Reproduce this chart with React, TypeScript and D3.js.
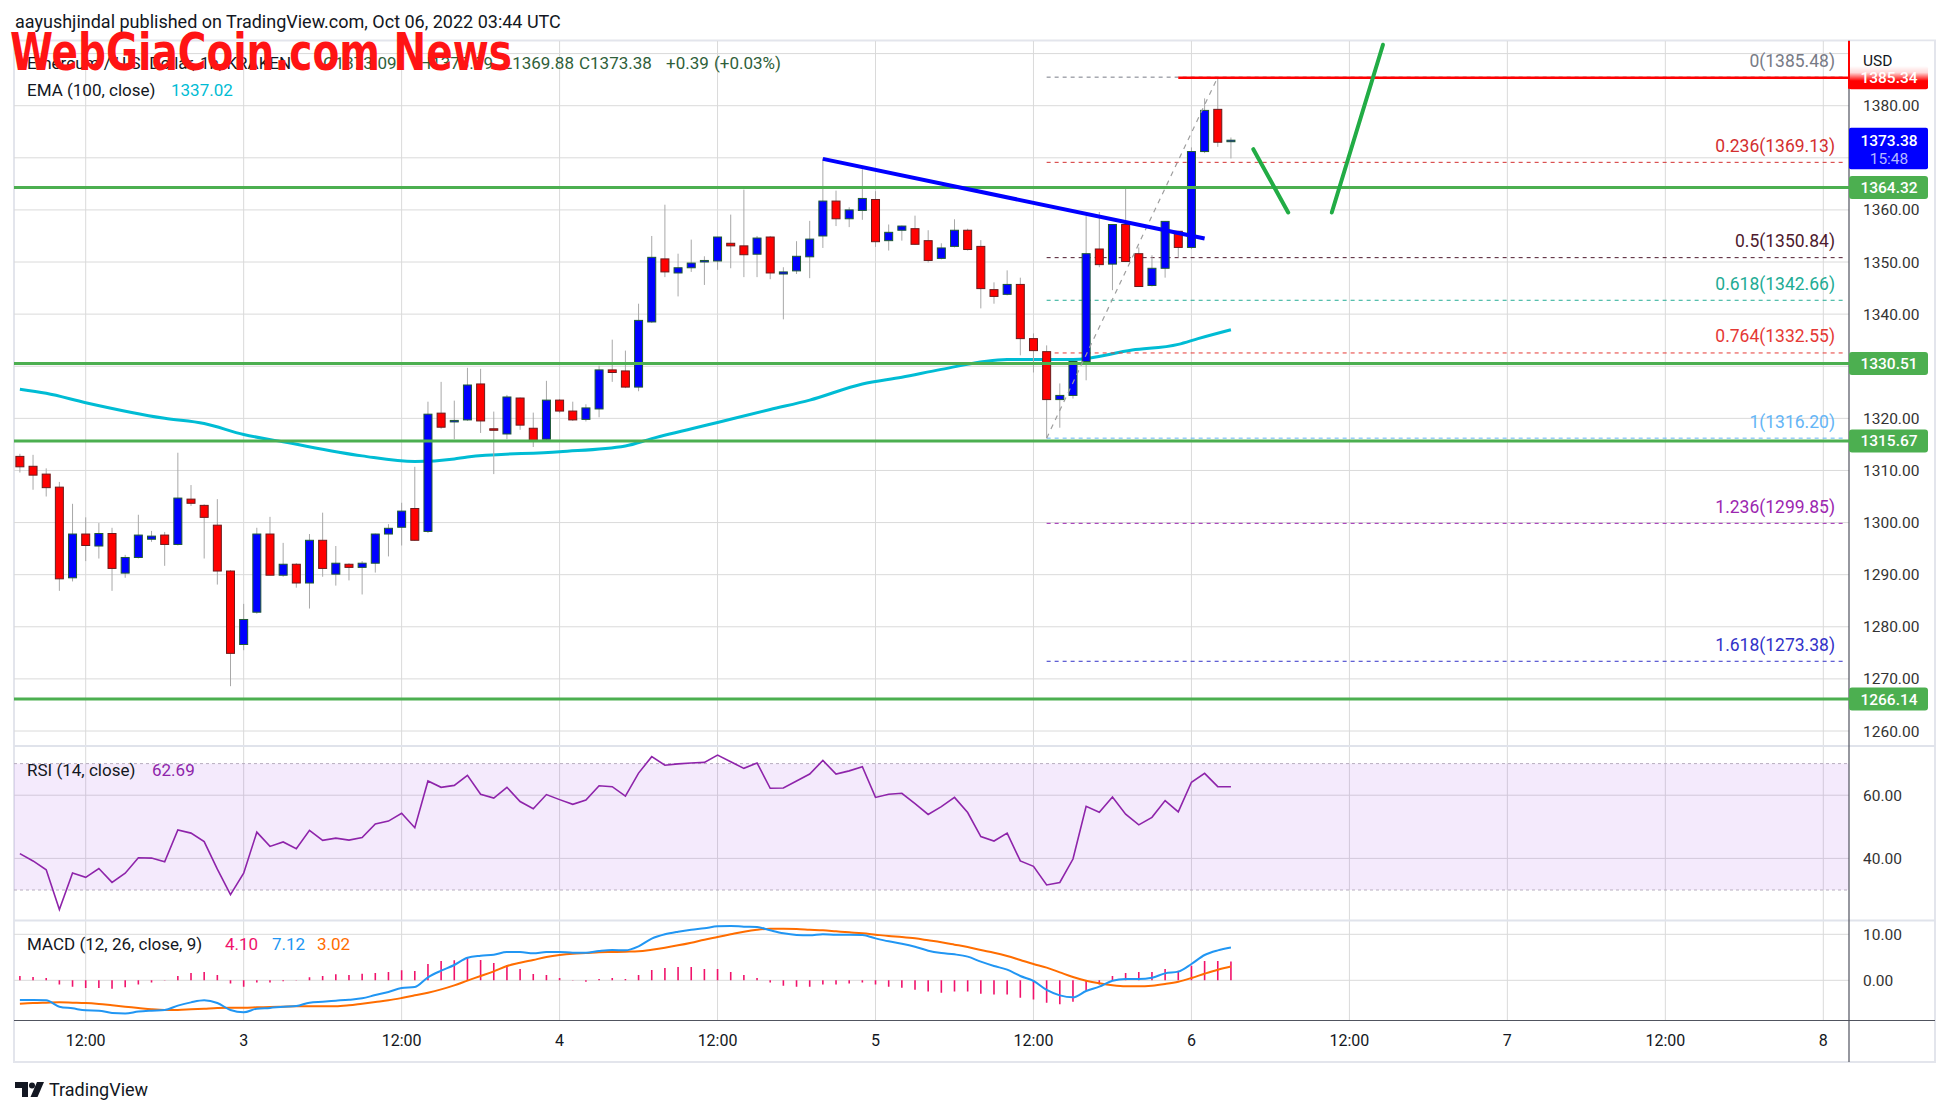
import React from "react";
import * as d3 from "d3";

// ---------- DATA ----------
// hourly candles, first candle opens 2022-10-02 07:00 UTC
const opens = [
  1312.7, 1310.8, 1309.3, 1306.8, 1289.4, 1297.8, 1295.5, 1297.9, 1290.3, 1293.3,
  1296.8, 1297.6, 1295.8, 1304.5, 1303.3, 1299.5, 1290.7, 1276.6, 1282.8, 1297.8,
  1289.9, 1292.0, 1288.4, 1296.6, 1290.1, 1292.0, 1291.4, 1292.2, 1297.8, 1299.1,
  1302.7, 1298.3, 1321.0, 1319.4, 1319.7, 1326.6, 1318.0, 1317.0, 1323.9, 1318.1,
  1316.0, 1323.5, 1321.4, 1319.8, 1321.8, 1329.3, 1329.1, 1326.0, 1338.5, 1350.6,
  1347.9, 1348.9, 1350.1, 1350.2, 1353.6, 1353.1, 1351.5, 1354.8, 1347.7, 1348.3,
  1351.0, 1355.0, 1361.7, 1358.3, 1359.9, 1362.0, 1354.1, 1356.1, 1356.4, 1354.1,
  1350.7, 1353.0, 1356.1, 1353.0, 1344.7, 1343.8, 1345.7, 1335.3, 1332.8, 1323.6,
  1324.4, 1330.9, 1352.5, 1349.6, 1357.2, 1351.6, 1345.5, 1348.8, 1355.9, 1352.8,
  1371.2, 1379.3, 1373.09,
];
const highs = [
  1313.2, 1313.0, 1310.4, 1307.8, 1303.6, 1301.0, 1299.9, 1299.0, 1293.8, 1301.5,
  1298.4, 1298.2, 1313.4, 1307.2, 1303.5, 1304.5, 1290.9, 1284.4, 1299.0, 1301.1,
  1296.1, 1292.2, 1297.8, 1301.9, 1295.5, 1292.2, 1292.6, 1297.9, 1299.7, 1303.8,
  1310.7, 1323.2, 1327.0, 1323.4, 1329.7, 1329.5, 1321.3, 1324.5, 1324.0, 1321.1,
  1327.2, 1323.7, 1323.2, 1322.7, 1330.1, 1335.1, 1333.0, 1342.0, 1355.0, 1361.0,
  1351.6, 1354.3, 1351.1, 1354.8, 1359.1, 1363.9, 1355.0, 1355.0, 1349.0, 1354.0,
  1357.9, 1369.9, 1363.7, 1360.5, 1367.8, 1363.6, 1357.2, 1357.0, 1358.9, 1356.1,
  1353.6, 1358.2, 1356.4, 1354.2, 1346.1, 1348.4, 1347.0, 1336.3, 1334.0, 1326.7,
  1330.9, 1358.8, 1359.6, 1357.2, 1364.1, 1352.8, 1351.3, 1357.8, 1356.0, 1372.0,
  1381.4, 1385.48, 1373.9,
];
const lows = [
  1309.6, 1306.3, 1305.0, 1286.9, 1288.7, 1292.6, 1293.1, 1286.9, 1289.4, 1293.1,
  1296.3, 1291.7, 1295.6, 1303.2, 1293.1, 1288.1, 1268.6, 1275.5, 1282.5, 1289.9,
  1289.6, 1287.5, 1283.5, 1289.6, 1287.9, 1288.9, 1286.2, 1290.4, 1293.5, 1295.6,
  1296.5, 1298.0, 1318.0, 1316.0, 1319.5, 1317.2, 1309.3, 1316.0, 1317.8, 1314.5,
  1315.8, 1321.0, 1319.5, 1319.4, 1320.2, 1327.0, 1325.8, 1325.2, 1338.3, 1347.1,
  1343.4, 1348.1, 1345.6, 1348.5, 1348.8, 1347.1, 1347.1, 1346.7, 1339.0, 1347.7,
  1346.9, 1352.7, 1356.9, 1356.7, 1358.1, 1352.9, 1352.2, 1354.1, 1353.3, 1349.9,
  1350.5, 1352.8, 1352.2, 1341.1, 1342.0, 1343.6, 1332.1, 1328.8, 1316.2, 1318.2,
  1323.8, 1327.3, 1349.0, 1344.6, 1350.0, 1345.2, 1345.3, 1347.0, 1350.9, 1352.5,
  1370.9, 1372.1, 1369.88,
];
const closes = [
  1310.7, 1309.1, 1306.7, 1289.2, 1297.8, 1295.6, 1297.9, 1291.2, 1293.3, 1297.6,
  1297.4, 1295.8, 1304.7, 1303.7, 1301.0, 1290.7, 1274.9, 1281.4, 1297.8, 1289.9,
  1292.0, 1288.4, 1296.6, 1291.2, 1292.2, 1291.4, 1292.2, 1297.8, 1298.9, 1302.2,
  1296.6, 1320.8, 1318.3, 1319.6, 1326.4, 1319.5, 1317.8, 1324.1, 1318.7, 1315.7,
  1323.5, 1321.4, 1319.7, 1322.0, 1329.3, 1328.8, 1326.0, 1338.8, 1350.9, 1348.1,
  1348.9, 1349.8, 1350.3, 1354.8, 1353.1, 1351.4, 1354.6, 1347.9, 1348.1, 1351.1,
  1354.4, 1361.7, 1358.3, 1360.0, 1362.2, 1353.9, 1355.7, 1356.9, 1353.4, 1350.3,
  1352.7, 1356.1, 1352.4, 1344.9, 1343.4, 1345.7, 1335.3, 1333.0, 1323.6, 1324.4,
  1330.9, 1351.6, 1349.5, 1357.2, 1350.1, 1345.3, 1348.8, 1357.8, 1352.8, 1371.2,
  1379.1, 1372.99, 1373.38,
];

// EMA(100) read at points: hours since 2022-10-03 00:00 UTC
const emaHours = [-17, -15, -12, -6, -3, 0, 3, 9, 13, 16, 17, 24, 29, 31, 36, 40, 43, 47, 50, 53, 58, 63, 67.5, 71, 72.5, 75];
const emaValues = [1325.6, 1324.8, 1323.0, 1320.0, 1319.0, 1316.9, 1315.5, 1312.8, 1311.7, 1312.2, 1312.6, 1313.6, 1314.7, 1316.1, 1319.2, 1321.7, 1323.5, 1326.6, 1327.9, 1329.4, 1331.3, 1331.3, 1333.1, 1334.2, 1335.3, 1337.0];

const rsi = [
  41.5, 39.2, 36.4, 23.8, 35.4, 34.0, 36.8, 32.4, 35.3, 40.2,
  40.1, 38.9, 49.0, 48.0, 45.3, 36.6, 28.5, 35.3, 48.3, 43.8,
  45.2, 43.1, 48.9, 45.7, 46.4, 45.8, 46.6, 50.9, 51.8, 54.3,
  49.7, 64.5, 62.5, 63.1, 66.3, 60.3, 59.1, 62.5, 58.0, 55.7,
  60.2, 58.6, 57.1, 58.5, 63.0, 62.7, 59.7, 67.0, 72.2, 69.5,
  69.9, 70.2, 70.4, 72.7, 70.6, 68.5, 70.2, 62.2, 62.3, 64.5,
  66.7, 71.0, 66.7, 67.7, 69.0, 59.3, 60.3, 60.6, 57.3, 53.9,
  56.4, 59.3, 54.5, 46.9, 45.5, 48.0, 39.2, 37.5, 31.6, 32.4,
  39.8, 56.5, 54.6, 59.4, 54.0, 50.6, 53.0, 58.3, 54.7, 64.1,
  66.9, 62.7, 62.69,
];
const macdLine = [
  -4.28, -4.28, -4.36, -5.73, -6.1, -6.53, -6.6, -7.1, -7.2, -6.8,
  -6.6, -6.46, -5.5, -4.8, -4.36, -4.94, -6.46, -6.97, -6.17, -6.0,
  -5.73, -5.59, -4.86, -4.65, -4.43, -4.21, -3.92, -3.2, -2.55, -1.68,
  -1.46, 0.64, 2.09, 3.33, 4.92, 5.35, 5.57, 6.15, 6.15, 5.86,
  6.15, 6.15, 6.0, 6.0, 6.37, 6.59, 6.51, 7.38, 9.05, 10.0,
  10.57, 11.0, 11.3, 11.73, 11.8, 11.66, 11.59, 10.86, 10.21, 9.85,
  9.77, 10.0, 9.92, 9.92, 9.85, 9.12, 8.47, 7.96, 7.31, 6.44,
  5.93, 5.64, 5.14, 4.05, 3.11, 2.31, 0.94, -0.14, -2.1, -3.27,
  -3.7, -2.33, -1.39, -0.08, 0.28, 0.28, 0.57, 1.51, 1.88, 3.54,
  5.5, 6.51, 7.12,
];
const signalLine = [
  -5.08, -4.94, -4.86, -4.79, -4.86, -4.94, -5.15, -5.44, -5.73, -6.02,
  -6.31, -6.46, -6.46, -6.31, -6.17, -6.02, -5.95, -5.95, -5.88, -5.8,
  -5.73, -5.66, -5.66, -5.66, -5.66, -5.44, -5.08, -4.72, -4.36, -3.85,
  -3.27, -2.69, -1.97, -1.1, -0.07, 0.93, 1.95, 3.1, 3.8, 4.42,
  5.06, 5.5, 5.79, 5.93, 6.08, 6.15, 6.22, 6.3, 6.66, 7.09,
  7.6, 8.18, 8.83, 9.41, 10.0, 10.57, 11.0, 11.22, 11.22, 11.15,
  11.0, 10.86, 10.64, 10.42, 10.21, 9.92, 9.63, 9.41, 9.12, 8.69,
  8.25, 7.75, 7.24, 6.59, 6.0, 5.28, 4.42, 3.55, 2.75, 1.73,
  0.72, -0.08, -0.66, -1.1, -1.32, -1.32, -1.17, -0.8, -0.3, 0.5,
  1.44, 2.31, 3.02,
];
const histValues = [
  0.94, 0.72, 0.5, -0.94, -1.38, -1.67, -1.67, -1.81, -1.52, -0.94,
  -0.5, -0.07, 0.94, 1.6, 1.8, 1.16, -0.72, -1.38, -0.5, -0.5,
  -0.22, -0.07, 0.65, 0.94, 1.3, 1.16, 1.45, 1.6, 1.8, 2.17,
  2.03, 3.55, 4.2, 4.35, 4.93, 4.42, 3.77, 3.33, 2.46, 1.38,
  1.16, 0.5, 0.07, -0.29, 0.29, 0.5, 0.29, 1.16, 2.25, 2.68,
  2.9, 2.9, 2.46, 2.46, 1.81, 1.16, 0.5, -0.5, -1.16, -1.38,
  -1.38, -0.94, -0.94, -0.72, -0.5, -0.94, -1.38, -1.6, -2.03, -2.46,
  -2.68, -2.46, -2.46, -2.9, -3.1, -3.1, -3.77, -4.2, -4.86, -5.22,
  -4.64, -2.25, -0.94, 0.94, 1.6, 1.81, 1.81, 2.46, 2.1, 3.19,
  4.2, 4.2, 4.1,
];

const priceTicks = [1260, 1270, 1280, 1290, 1300, 1310, 1320, 1330, 1340, 1350, 1360, 1370, 1380, 1390];
const supportLevels = [1364.32, 1330.51, 1315.67, 1266.14];
const fibRatios = ["0", "0.236", "0.5", "0.618", "0.764", "1", "1.236", "1.618"];
const fibPrices = [1385.48, 1369.13, 1350.84, 1342.66, 1332.55, 1316.2, 1299.85, 1273.38];
const fibColors = ["#787b86", "#d32f2f", "#4e1a2e", "#22ab94", "#e53935", "#64b5f6", "#9c27b0", "#3232c8"];
// drawings: hours since 2022-10-03 00:00 UTC
const trendHours = [44, 73];
const trendPrices = [1369.8, 1354.5];
const fibAnchorHours = [61, 74];
const fibAnchorPrices = [1316.2, 1385.48];
const arrow1Hours = [76.7, 79.35];
const arrow1Prices = [1371.65, 1359.5];
const arrow2Hours = [82.66, 86.55];
const arrow2Prices = [1359.5, 1391.7];
const highRayHour = 71;
const highRayPrice = 1385.34;

const T0 = Date.UTC(2022, 9, 2, 7);
const REF = Date.UTC(2022, 9, 3);
const HOUR = 3600 * 1000;
const FONT = "Roboto, 'Noto Sans', sans-serif";

export default function App() {
  const L = 14, R = 1849, AXR = 1935;
  const P_TOP = 41, P_BOT = 745.5, RSI_TOP = 746.5, RSI_BOT = 920, M_TOP = 921, M_BOT = 1020.5, BOT = 1062;

  const x = d3.scaleUtc()
    .domain([new Date(Date.UTC(2022, 9, 2, 12)), new Date(Date.UTC(2022, 9, 8, 0))])
    .range([85.7, 1823.3]);
  const xh = (h: number) => x(new Date(REF + h * HOUR));
  const y = d3.scaleLinear().domain([1260, 1380]).range([731, 105.7]);
  const yR = d3.scaleLinear().domain([30, 70]).range([890, 763.6]);
  const yM = d3.scaleLinear().domain([0, 10]).range([980.3, 934.3]);

  const times = closes.map((_, i) => new Date(T0 + i * HOUR));
  const timeTicks = x.ticks(d3.utcHour.every(12) as any);
  const fmtTick = (d: Date) => (d.getUTCHours() === 0 ? d3.utcFormat("%-d")(d) : "12:00");

  const emaLine = d3.line<number>().x((_, i) => xh(emaHours[i])).y((v) => y(v)).curve(d3.curveMonotoneX)(emaValues) || "";
  const rsiPath = d3.line<number>().x((_, i) => x(times[i])).y((v) => yR(v))(rsi) || "";
  const macdPath = d3.line<number>().x((_, i) => x(times[i])).y((v) => yM(v)).curve(d3.curveMonotoneX)(macdLine) || "";
  const sigPath = d3.line<number>().x((_, i) => x(times[i])).y((v) => yM(v)).curve(d3.curveMonotoneX)(signalLine) || "";

  const bw = 8;
  const gridColor = "#dadada";
  const lastClose = closes[closes.length - 1];
  const yHigh = y(highRayPrice);

  const tag = (price: number, label: string, color: string, key: string) => {
    const cy = y(price);
    return (
      <g key={key}>
        <rect x={R} y={cy - 11.5} width={79} height={23} rx={3} fill={color} />
        <text x={R + 40} y={cy + 5.5} textAnchor="middle" fill="#fff" fontSize={15.5} fontFamily={FONT} fontWeight={500}>{label}</text>
      </g>
    );
  };

  return (
    <svg width={1950} height={1115} style={{ position: "absolute", left: 0, top: 0, background: "#fff" }} xmlns="http://www.w3.org/2000/svg">
      <defs>
        <clipPath id="pricePane"><rect x={L} y={P_TOP} width={R - L} height={P_BOT - P_TOP} /></clipPath>
        <clipPath id="rsiPane"><rect x={L} y={RSI_TOP} width={R - L} height={RSI_BOT - RSI_TOP} /></clipPath>
        <clipPath id="macdPane"><rect x={L} y={M_TOP} width={R - L} height={M_BOT - M_TOP} /></clipPath>
        <linearGradient id="redFade" x1="0" y1="0" x2="0" y2="1">
          <stop offset="0" stopColor="#fff" stopOpacity={1} />
          <stop offset="0.45" stopColor="#fff" stopOpacity={0.85} />
          <stop offset="1" stopColor="#fff" stopOpacity={0} />
        </linearGradient>
      </defs>
      <rect x={0} y={0} width={1950} height={1115} fill="#fff" />

      {/* header */}
      <text x={15} y={28} fontSize={18} fontFamily={FONT} fill="#131722">aayushjindal published on TradingView.com, Oct 06, 2022 03:44 UTC</text>

      {/* outer frame */}
      <rect x={L} y={40.5} width={AXR - L} height={BOT - 40.5} fill="none" stroke="#e3e5ec" strokeWidth={2} />

      {/* vertical grid */}
      {timeTicks.map((t, i) => (
        <line key={"vg" + i} x1={x(t)} x2={x(t)} y1={P_TOP} y2={M_BOT} stroke={gridColor} strokeWidth={1} />
      ))}
      {/* price horizontal grid */}
      {priceTicks.map((p) => (
        <line key={"hg" + p} x1={L} x2={R} y1={y(p)} y2={y(p)} stroke={gridColor} strokeWidth={1} />
      ))}
      {/* RSI grid + band */}
      {[40, 60].map((v) => (
        <line key={"rg" + v} x1={L} x2={R} y1={yR(v)} y2={yR(v)} stroke={gridColor} strokeWidth={1} />
      ))}
      <rect x={L} y={yR(70)} width={R - L} height={yR(30) - yR(70)} fill="rgb(150,50,230)" fillOpacity={0.1} />
      {[30, 70].map((v) => (
        <line key={"rb" + v} x1={L} x2={R} y1={yR(v)} y2={yR(v)} stroke="#b8aebf" strokeWidth={1} strokeDasharray="3,3" />
      ))}
      {/* MACD grid */}
      {[0, 10].map((v) => (
        <line key={"mg" + v} x1={L} x2={R} y1={yM(v)} y2={yM(v)} stroke={gridColor} strokeWidth={1} />
      ))}

      {/* separators */}
      <line x1={L} x2={AXR} y1={P_BOT + 0.5} y2={P_BOT + 0.5} stroke="#e0e3eb" strokeWidth={2} />
      <line x1={L} x2={AXR} y1={RSI_BOT + 0.5} y2={RSI_BOT + 0.5} stroke="#e0e3eb" strokeWidth={2} />
      <line x1={L} x2={AXR} y1={M_BOT} y2={M_BOT} stroke="#50535e" strokeWidth={1.2} />
      <line x1={R} x2={R} y1={40.5} y2={BOT} stroke="#50535e" strokeWidth={1.2} />

      {/* price pane */}
      <g clipPath="url(#pricePane)">
        <path d={emaLine} fill="none" stroke="#00bcd4" strokeWidth={3} />
        {fibPrices.map((p, i) => (
          <line key={"fl" + i} x1={xh(fibAnchorHours[0])} x2={R - 3} y1={y(p)} y2={y(p)} stroke={fibColors[i]} strokeWidth={1} strokeDasharray="4,4" />
        ))}
        {closes.map((c, i) => {
          const o = opens[i];
          const up = c >= o;
          const cx = x(times[i]);
          const top = y(Math.max(o, c));
          const bot = y(Math.min(o, c));
          return (
            <g key={"c" + i}>
              <line x1={cx} x2={cx} y1={y(highs[i])} y2={y(lows[i])} stroke="#a8a8a8" strokeWidth={1} />
              <rect x={cx - bw / 2} y={top} width={bw} height={Math.max(1.5, bot - top)}
                fill={up ? "#0000ff" : "#ff0000"} stroke={up ? "#1f5a32" : "#6b1b1b"} strokeWidth={1} />
            </g>
          );
        })}
        {supportLevels.map((p) => (
          <line key={"s" + p} x1={L} x2={R} y1={y(p)} y2={y(p)} stroke="#4caf50" strokeWidth={3} />
        ))}
        <line x1={xh(fibAnchorHours[0])} y1={y(fibAnchorPrices[0])} x2={xh(fibAnchorHours[1])} y2={y(fibAnchorPrices[1])} stroke="#9e9e9e" strokeWidth={1.2} strokeDasharray="5,5" />
        <line x1={xh(trendHours[0])} y1={y(trendPrices[0])} x2={xh(trendHours[1])} y2={y(trendPrices[1])} stroke="#0000ff" strokeWidth={4} />
        <line x1={xh(highRayHour)} y1={yHigh} x2={R} y2={yHigh} stroke="#ff0000" strokeWidth={2.5} />
        <line x1={xh(arrow1Hours[0])} y1={y(arrow1Prices[0])} x2={xh(arrow1Hours[1])} y2={y(arrow1Prices[1])} stroke="#22ac45" strokeWidth={4} strokeLinecap="round" />
        <line x1={xh(arrow2Hours[0])} y1={y(arrow2Prices[0])} x2={xh(arrow2Hours[1])} y2={y(arrow2Prices[1])} stroke="#22ac45" strokeWidth={4} strokeLinecap="round" />
        {fibPrices.map((p, i) => (
          <text key={"ft" + i} x={1835} y={y(p) - 10.5} textAnchor="end" fontSize={17.5} fontFamily={FONT} fill={fibColors[i]}>
            {fibRatios[i]}({p.toFixed(2)})
          </text>
        ))}
      </g>

      {/* RSI */}
      <g clipPath="url(#rsiPane)">
        <path d={rsiPath} fill="none" stroke="#8e24aa" strokeWidth={1.6} />
      </g>

      {/* MACD */}
      <g clipPath="url(#macdPane)">
        {histValues.map((v, i) => (
          <line key={"h" + i} x1={x(times[i])} x2={x(times[i])} y1={yM(0)} y2={yM(v)} stroke="#f0136b" strokeWidth={1.6} />
        ))}
        <path d={sigPath} fill="none" stroke="#ff6d00" strokeWidth={2} />
        <path d={macdPath} fill="none" stroke="#2196f3" strokeWidth={2} />
      </g>

      {/* legends */}
      <g fontFamily={FONT} fontSize={17}>
        <text x={27} y={69} fill="#131722">Ethereum / U.S. Dollar, 1h, KRAKEN</text>
        <text x={323} y={69} fill="#2f5f3a">O1373.09</text>
        <text x={419} y={69} fill="#2f5f3a">H1373.99</text>
        <text x={503} y={69} fill="#2f5f3a">L1369.88</text>
        <text x={579} y={69} fill="#2f5f3a">C1373.38</text>
        <text x={666} y={69} fill="#2f5f3a">+0.39</text>
        <text x={714} y={69} fill="#2f5f3a">(+0.03%)</text>
        <text x={27} y={96} fill="#131722">EMA (100, close)</text>
        <text x={171} y={96} fill="#00bcd4">1337.02</text>
        <text x={27} y={776} fill="#131722">RSI (14, close)</text>
        <text x={152} y={776} fill="#8e24aa">62.69</text>
        <text x={27} y={950} fill="#131722">MACD (12, 26, close, 9)</text>
        <text x={225} y={950} fill="#f0136b">4.10</text>
        <text x={272} y={950} fill="#2196f3">7.12</text>
        <text x={317} y={950} fill="#ff6d00">3.02</text>
      </g>

      {/* watermark */}
      <text x={10} y={70} fontFamily="'Liberation Sans Narrow','DejaVu Sans Condensed','Liberation Sans',sans-serif" fontWeight="bold" fontSize={51} fill="#ff1414" textLength={502} lengthAdjust="spacingAndGlyphs">WebGiaCoin.com News</text>

      {/* price axis labels */}
      <g fontFamily={FONT} fontSize={15.5} fill="#333">
        {priceTicks.filter((p) => p <= 1380).map((p) => (
          <text key={"pl" + p} x={1863} y={y(p) + 5.5}>{p.toFixed(2)}</text>
        ))}
        <text x={1863} y={yR(60) + 5.5}>60.00</text>
        <text x={1863} y={yR(40) + 5.5}>40.00</text>
        <text x={1863} y={yM(10) + 5.5}>10.00</text>
        <text x={1863} y={yM(0) + 5.5}>0.00</text>
      </g>

      {/* axis tags */}
      {supportLevels.map((p) => tag(p, p.toFixed(2), "#4caf50", "tg" + p))}
      <g>
        <rect x={R} y={y(lastClose) - 12.5} width={79} height={41.5} rx={2} fill="#0000ff" />
        <text x={R + 40} y={y(lastClose) + 5.5} textAnchor="middle" fill="#fff" fontSize={15.5} fontFamily={FONT} fontWeight={500}>{lastClose.toFixed(2)}</text>
        <text x={R + 40} y={y(lastClose) + 23.5} textAnchor="middle" fill="#b4b8ff" fontSize={15.5} fontFamily={FONT}>15:48</text>
      </g>
      <g>
        <rect x={R} y={yHigh - 11.5} width={79} height={23} rx={2} fill="#ff0000" />
        <text x={R + 40} y={yHigh + 5.5} textAnchor="middle" fill="#fff" fontSize={15.5} fontFamily={FONT} fontWeight={500}>{highRayPrice.toFixed(2)}</text>
        <rect x={R + 1} y={yHigh - 12} width={80} height={15} fill="url(#redFade)" />
        <rect x={R + 1} y={41.5} width={AXR - R - 2} height={yHigh - 12 - 41.5} fill="#fff" />
        <line x1={R} x2={R} y1={41} y2={yHigh + 11} stroke="#ff0000" strokeWidth={2} />
      </g>
      <text x={1863} y={65.5} fontFamily={FONT} fontSize={15.5} fill="#131722">USD</text>

      {/* time axis */}
      <g fontFamily={FONT} fontSize={16} fill="#131722">
        {timeTicks.map((t, i) => (
          <text key={"tl" + i} x={x(t)} y={1045.5} textAnchor="middle">{fmtTick(t)}</text>
        ))}
      </g>

      {/* TradingView logo */}
      <g fill="#131722">
        <path d="M15 1082 h13 v15 h-6 v-9 h-7 z" />
        <circle cx={32} cy={1085.5} r={3} />
        <path d="M37 1082 h7 l-6.5 15 h-7 z" />
        <text x={49} y={1096} fontFamily={FONT} fontSize={18}>TradingView</text>
      </g>
    </svg>
  );
}
